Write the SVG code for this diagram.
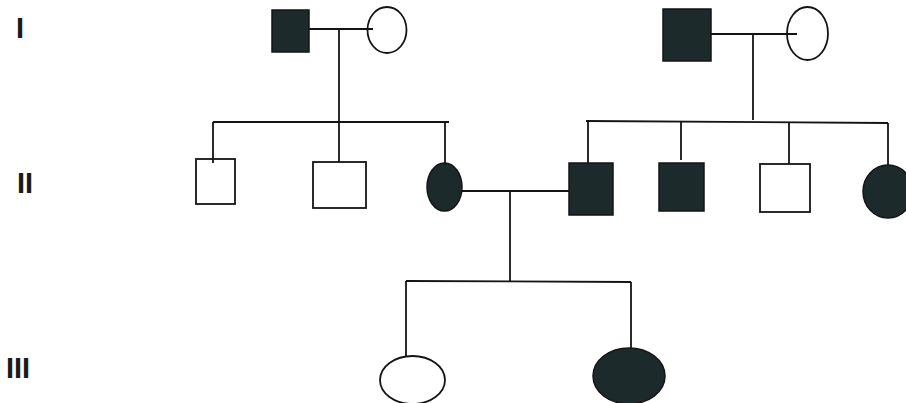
<svg xmlns="http://www.w3.org/2000/svg" width="906" height="403" viewBox="0 0 906 403">
<style>
.ln{stroke:#141414;stroke-width:1.8;fill:none}
.aff{fill:#1d2a2b;stroke:#151515;stroke-width:1.5}
.una{fill:#ffffff;stroke:#141414;stroke-width:1.8}
.gen{font-family:"Liberation Sans",Arial,sans-serif;font-size:29px;font-weight:bold;fill:#1a1a1a}
</style>
<rect width="906" height="403" fill="#ffffff"/>
<g id="labels">
<text class="gen" x="16" y="38">I</text>
<text class="gen" x="17" y="193">II</text>
<text class="gen" x="6" y="378">III</text>
</g>
<g id="I-1"><rect class="aff" x="272" y="10" width="37" height="42"/></g>
<g id="I-2"><ellipse class="una" cx="387" cy="30" rx="19.5" ry="23"/></g>
<g id="I-3"><rect class="aff" x="663" y="9" width="48" height="52"/></g>
<g id="I-4"><ellipse class="una" cx="807.5" cy="33.5" rx="20.5" ry="26.5"/></g>
<g id="II-1"><rect class="una" x="196" y="159" width="39" height="45"/></g>
<g id="II-2"><rect class="una" x="313" y="162" width="53" height="46"/></g>
<g id="II-3"><ellipse class="aff" cx="444.5" cy="187" rx="17.5" ry="24"/></g>
<g id="II-4"><rect class="aff" x="569" y="163" width="44" height="52"/></g>
<g id="II-5"><rect class="aff" x="659" y="163" width="45" height="48"/></g>
<g id="II-6"><rect class="una" x="760" y="164" width="50" height="48"/></g>
<g id="II-7"><ellipse class="aff" cx="888" cy="191.5" rx="25" ry="26.5"/></g>
<g id="III-1"><ellipse class="una" cx="412.5" cy="380" rx="32.5" ry="24"/></g>
<g id="III-2"><ellipse class="aff" cx="629" cy="376" rx="36" ry="28"/></g>
<g id="connectors">
<line class="ln" x1="309" y1="29" x2="373" y2="29"/>
<line class="ln" x1="339" y1="29" x2="339" y2="162"/>
<line class="ln" x1="213" y1="122" x2="449" y2="122"/>
<line class="ln" x1="213" y1="122" x2="213" y2="163"/>
<line class="ln" x1="445" y1="122" x2="445" y2="165"/>
<line class="ln" x1="711" y1="34" x2="797" y2="34"/>
<line class="ln" x1="753" y1="34" x2="753" y2="120"/>
<line class="ln" x1="586" y1="121" x2="888" y2="123"/>
<line class="ln" x1="588" y1="121" x2="588" y2="163"/>
<line class="ln" x1="681" y1="122" x2="681" y2="160"/>
<line class="ln" x1="789" y1="122" x2="789" y2="164"/>
<line class="ln" x1="888" y1="123" x2="888" y2="165"/>
<line class="ln" x1="462" y1="191" x2="569" y2="191"/>
<line class="ln" x1="510" y1="191" x2="510" y2="281"/>
<line class="ln" x1="406" y1="281" x2="631" y2="282"/>
<line class="ln" x1="406" y1="281" x2="406" y2="356"/>
<line class="ln" x1="631" y1="282" x2="631" y2="348"/>
</g>
</svg>
